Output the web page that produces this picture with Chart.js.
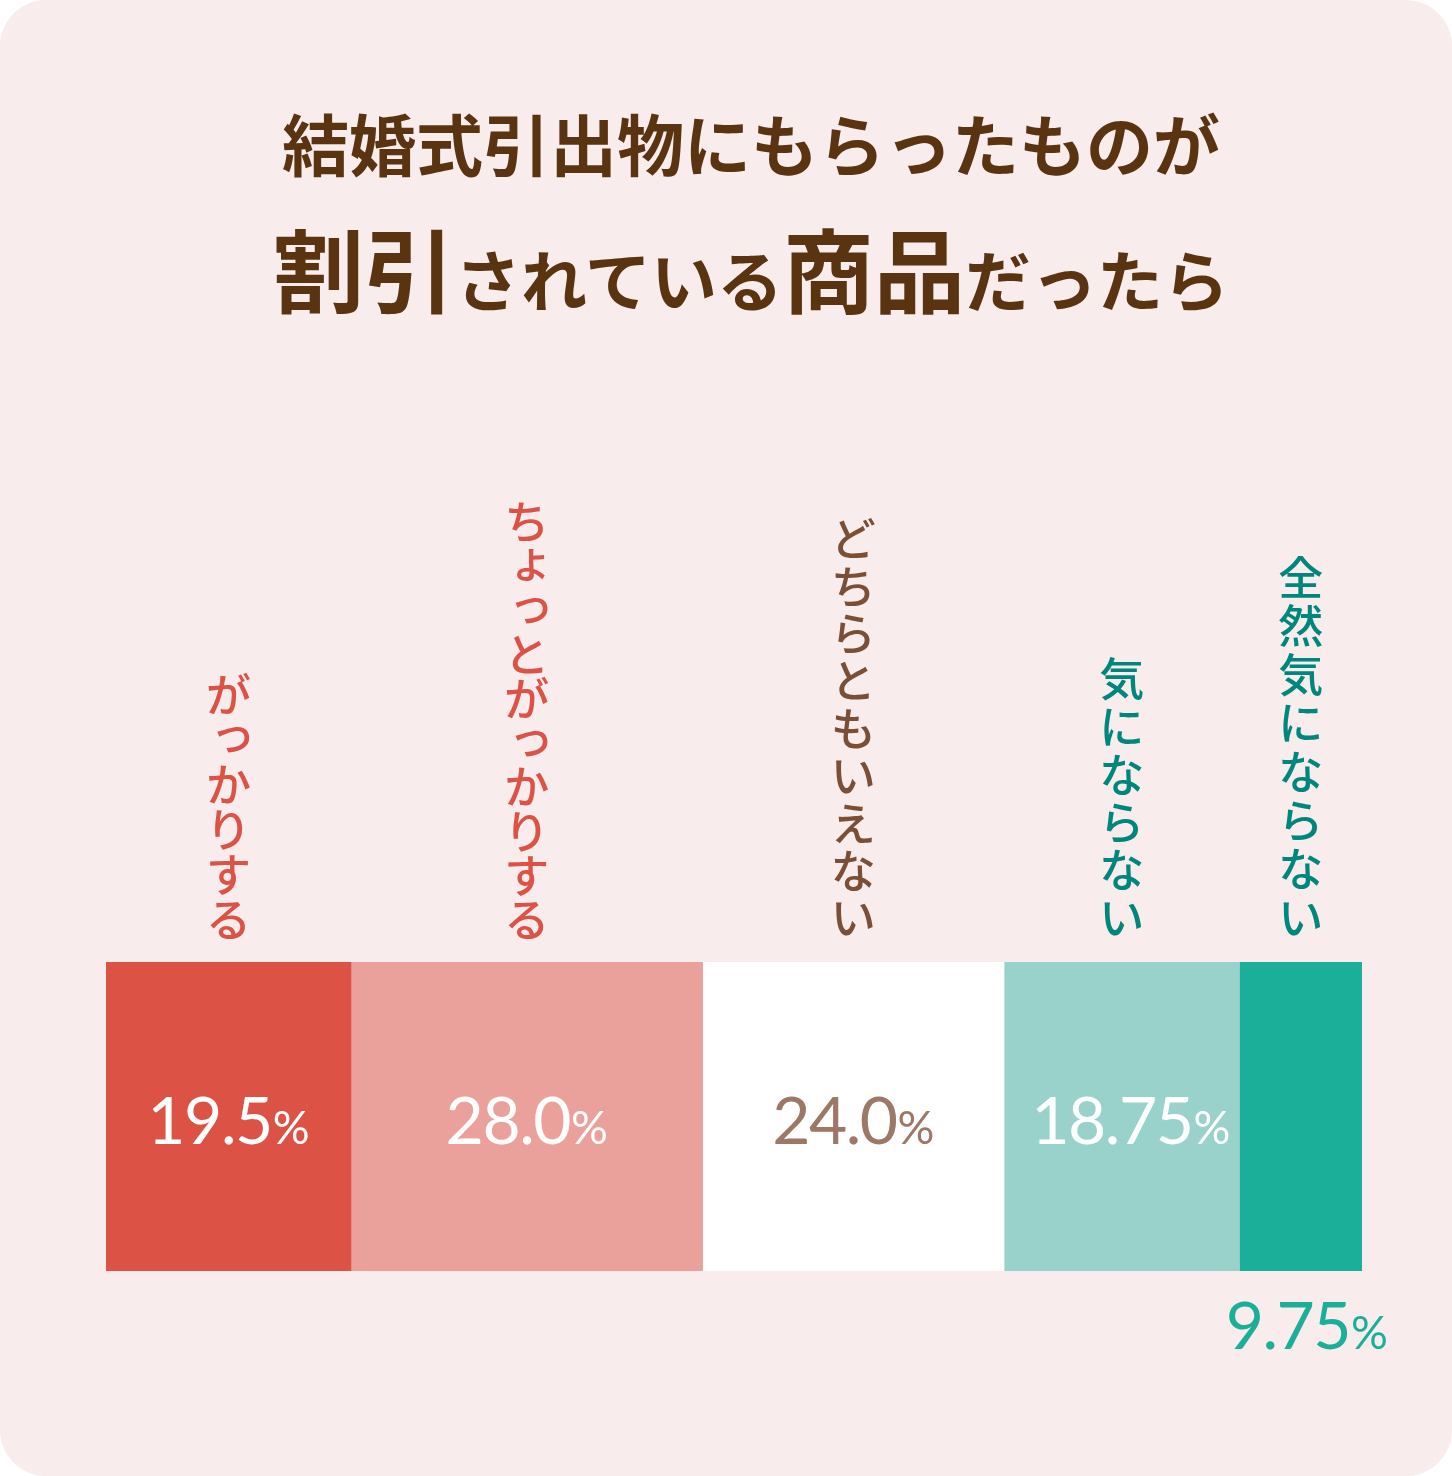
<!DOCTYPE html>
<html>
<head>
<meta charset="utf-8">
<script src="https://cdn.jsdelivr.net/npm/chart.js@4/dist/chart.umd.min.js"></script>
<style>
  html, body { margin: 0; padding: 0; background: #ffffff; }
  #card { position: absolute; left: 0; top: 0; width: 1452px; height: 1476px; background: #F8ECEC; border-radius: 46px; overflow: hidden; }
  #c { position: absolute; left: 0; top: 0; }
  .title { position: absolute; left: 0; width: 1502px; text-align: center; color: #5A3310; font-family: "Noto Sans CJK JP", sans-serif; font-weight: 700; white-space: nowrap; }
  #t1 { top: 108px; font-size: 67px; line-height: 1; }
  #t2 { top: 221px; line-height: 1; }
  #t2 .big { font-size: 91px; }
  #t2 .small { font-size: 66px; }
</style>
</head>
<body>
<div id="card">
  <div class="title" id="t1">結婚式引出物にもらったものが</div>
  <div class="title" id="t2"><span class="big">割引</span><span class="small">されている</span><span class="big">商品</span><span class="small">だったら</span></div>
  <canvas id="c" width="1452" height="1476"></canvas>
</div>
<script>
// ---- data ----
const categories = ['がっかりする', 'ちょっとがっかりする', 'どちらともいえない', '気にならない', '全然気にならない'];
const values = [19.5, 28.0, 24.0, 18.75, 9.75];
const valueLabels = ['19.5', '28.0', '24.0', '18.75', '9.75'];

// ---- styles ----
const barColors = ['#DC5245', '#EBA19B', '#FFFFFF', '#98D2CB', '#1BAF99'];
const catColors = ['#DC5245', '#DC5245', '#7B4F36', '#00877D', '#00877D'];
const valColors = ['#FFFFFF', '#FFFFFF', '#9E7866', '#FFFFFF', '#1BAF99'];
const catSteps = [45, 44.2, 47.4, 47.8, 48.6];
const valueBelow = [false, false, false, false, true];

const smallKana = 'ょっゃゅぁぃぅぇぉ';

const labelPlugin = {
  id: 'labels',
  afterDatasetsDraw(chart) {
    const ctx = chart.ctx;
    ctx.save();
    chart.data.datasets.forEach((ds, i) => {
      const bar = chart.getDatasetMeta(i).data[0];
      const cx = (bar.x + bar.base) / 2;
      const top = bar.y - bar.height / 2;
      const bottom = bar.y + bar.height / 2;
      // vertical category label
      const chars = Array.from(categories[i]);
      const step = catSteps[i];
      const fs = 45;
      ctx.font = '500 ' + fs + 'px "Noto Sans CJK JP", sans-serif';
      ctx.fillStyle = catColors[i];
      ctx.textAlign = 'center';
      ctx.textBaseline = 'middle';
      ctx.letterSpacing = '0px';
      const n = chars.length;
      chars.forEach((ch, j) => {
        let y = top - 20 - step * (n - 1 - j) - step / 2;
        let x = cx;
        if (smallKana.includes(ch)) { x += fs * 0.1; y -= fs * 0.12; }
        ctx.fillText(ch, x, y);
      });
      // value label
      const numFont = '400 66px Lato, sans-serif';
      const pctFont = '400 46px Lato, sans-serif';
      const ls = '-1.5px';
      ctx.letterSpacing = ls;
      ctx.font = numFont;
      const wNum = ctx.measureText(valueLabels[i]).width;
      ctx.letterSpacing = '0px';
      ctx.font = pctFont;
      const wPct = ctx.measureText('%').width;
      const gap = 1;
      const total = wNum + gap + wPct;
      const vx = cx + (i === 3 ? 9 : 0) + (valueBelow[i] ? 6 : 0);
      const baseY = valueBelow[i] ? bottom + 78 : bar.y + 27;
      const startX = vx - total / 2;
      ctx.textBaseline = 'alphabetic';
      ctx.textAlign = 'left';
      ctx.fillStyle = valColors[i];
      ctx.letterSpacing = ls;
      ctx.font = numFont;
      ctx.fillText(valueLabels[i], startX, baseY);
      ctx.letterSpacing = '0px';
      ctx.font = pctFont;
      ctx.fillText('%', startX + wNum + gap, baseY);
    });
    ctx.restore();
  }
};

new Chart(document.getElementById('c'), {
  type: 'bar',
  data: {
    labels: [''],
    datasets: categories.map((c, i) => ({
      label: c,
      data: [values[i]],
      backgroundColor: barColors[i],
      borderWidth: 0,
      barPercentage: 1,
      categoryPercentage: 1
    }))
  },
  options: {
    indexAxis: 'y',
    responsive: false,
    animation: false,
    layout: { padding: { left: 106, right: 90, top: 962, bottom: 205 } },
    scales: {
      x: { stacked: true, min: 0, max: 100, display: false },
      y: { stacked: true, display: false }
    },
    plugins: { legend: { display: false }, tooltip: { enabled: false } }
  },
  plugins: [labelPlugin]
});
</script>
</body>
</html>
